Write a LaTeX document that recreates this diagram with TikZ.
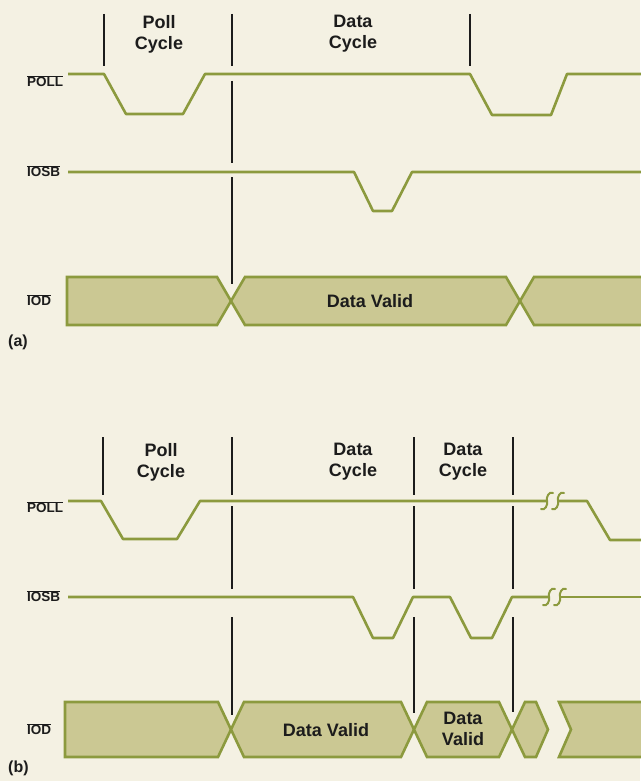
\documentclass[tikz,border=0pt]{standalone}
\usepackage{fontspec}
\setmainfont{Liberation Sans}
\definecolor{bgc}{HTML}{F4F1E3}
\definecolor{sigc}{HTML}{8C9A3E}
\definecolor{busc}{HTML}{CBC893}
\definecolor{inkc}{HTML}{1C1C1C}
\newcommand\ovlbar[1]{$\overline{\hbox{#1}}$}
\begin{document}
\begin{tikzpicture}[x=1pt,y=-1pt,
  sig/.style={draw=sigc, line width=2.6pt, line join=round},
  brk/.style={draw=sigc, line width=2pt, line cap=round},
  bus/.style={fill=busc, draw=sigc, line width=2.6pt, line join=miter},
  busfill/.style={fill=busc},
  marker/.style={draw=inkc, line width=1.4pt},
  cyc/.style={font=\fontsize{18}{21}\selectfont\bfseries, align=center, text=inkc, inner sep=0},
  lab/.style={font=\fontsize{13.5}{15}\selectfont\bfseries, anchor=west, inner sep=0, text=inkc},
  part/.style={font=\fontsize{16}{18}\selectfont\bfseries, anchor=west, inner sep=0, text=inkc}]
\fill[bgc] (0,0) rectangle (640,781);
\useasboundingbox (0,0) rectangle (640,781);

% ---------------- (a) ----------------
\node[cyc] (pcA) at (159,34) {Poll\\Cycle};
\node[cyc] (dcA) at (353,34) {Data\\Cycle};
\draw[marker] (104,14) -- (104,66);
\draw[marker] (232,14) -- (232,66);
\draw[marker] (470,14) -- (470,66);
\draw[marker] (232,81) -- (232,163);
\draw[marker] (232,177) -- (232,284);

\node[lab] (pollA) at (27,81) {\ovlbar{POLL}};
\node[lab] (iosbA) at (27,171) {\ovlbar{IOSB}};
\node[lab] (iodA) at (27,300) {\ovlbar{IOD}};

\draw[sig] (68,74) -- (104,74) -- (126,114) -- (183,114) -- (205,74) -- (470,74) -- (492,115) -- (551,115) -- (567,74) -- (641,74);
\draw[sig] (68,172) -- (354,172) -- (373,211) -- (392,211) -- (412,172) -- (641,172);

\draw[bus] (67,277) -- (217,277) -- (231,301) -- (217,325) -- (67,325) -- cycle;
\draw[bus] (231,301) -- (245,277) -- (506,277) -- (520,301) -- (506,325) -- (245,325) -- cycle;
\fill[busfill] (520,301) -- (534,277) -- (641,277) -- (641,325) -- (534,325) -- cycle;
\draw[sig, line join=miter] (641,277) -- (534,277) -- (520,301) -- (534,325) -- (641,325);
\node[cyc] (dvA) at (370,301) {Data Valid};

\node[part] (partA) at (8,342) {(a)};

% ---------------- (b) ----------------
\node[cyc] (pcB) at (161,462) {Poll\\Cycle};
\node[cyc] (dcB1) at (353,462) {Data\\Cycle};
\node[cyc] (dcB2) at (463,462) {Data\\Cycle};
\foreach \xx in {103} {\draw[marker] (\xx,437) -- (\xx,495);}
\foreach \xx/\yy in {232/715, 414/713, 513/712} {
  \draw[marker] (\xx,437) -- (\xx,495);
  \draw[marker] (\xx,506) -- (\xx,589);
  \draw[marker] (\xx,617) -- (\xx,\yy);
}

\node[lab] (pollB) at (27,507) {\ovlbar{POLL}};
\node[lab] (iosbB) at (27,596) {\ovlbar{IOSB}};
\node[lab] (iodB) at (27,729) {\ovlbar{IOD}};

\draw[sig] (68,501) -- (101,501) -- (123,539) -- (177,539) -- (200,501) -- (546,501);
\draw[sig] (558,501) -- (587,501) -- (610,540) -- (641,540);
\draw[brk] (541,509) .. controls (545,511) and (548,505) .. (547,501) .. controls (546,497) and (549,491) .. (553,493);
\draw[brk] (552,509) .. controls (556,511) and (559,505) .. (558,501) .. controls (557,497) and (560,491) .. (564,493);

\draw[sig] (68,597) -- (353,597) -- (373,638) -- (393,638) -- (413,597) -- (450,597) -- (471,638) -- (492,638) -- (512,597) -- (548,597);
\draw[sig] (560,597) -- (641,597);
\draw[brk] (543,605) .. controls (547,607) and (550,601) .. (549,597) .. controls (548,593) and (551,587) .. (555,589);
\draw[brk] (554,605) .. controls (558,607) and (561,601) .. (560,597) .. controls (559,593) and (562,587) .. (566,589);

\draw[bus] (65,702) -- (218,702) -- (231,729.5) -- (218,757) -- (65,757) -- cycle;
\draw[bus] (231,729.5) -- (244,702) -- (401,702) -- (414,729.5) -- (401,757) -- (244,757) -- cycle;
\draw[bus] (414,729.5) -- (427,702) -- (499,702) -- (512,729.5) -- (499,757) -- (427,757) -- cycle;
\draw[bus] (512,729.5) -- (525,702) -- (536,702) -- (548,729.5) -- (536,757) -- (525,757) -- cycle;
\fill[busfill] (559,702) -- (641,702) -- (641,757) -- (559,757) -- (571,729.5) -- cycle;
\draw[sig, line join=miter] (641,702) -- (559,702) -- (571,729.5) -- (559,757) -- (641,757);
\node[cyc] (dvB1) at (326,730) {Data Valid};
\node[cyc] (dvB2) at (463,729) {Data\\Valid};

\node[part] (partB) at (8,768) {(b)};
\end{tikzpicture}
\end{document}
